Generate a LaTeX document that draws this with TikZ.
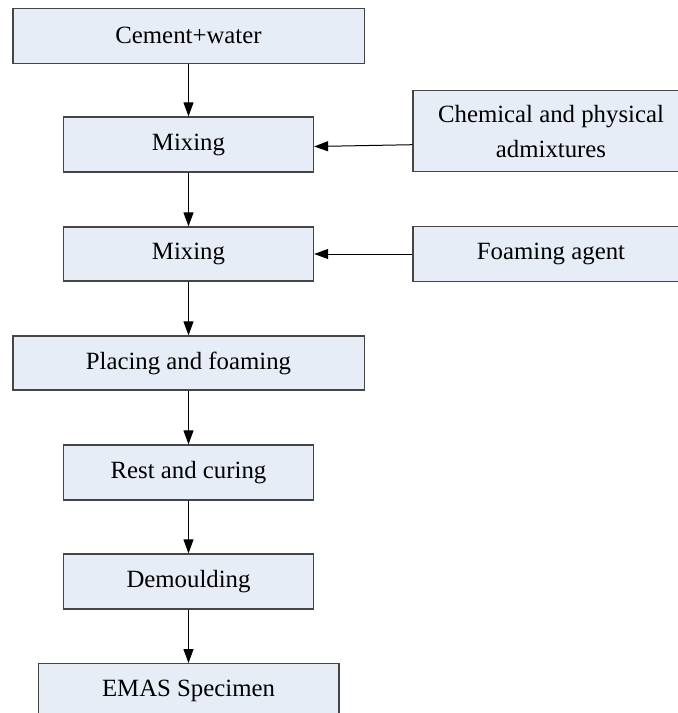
\documentclass[tikz,border=0pt]{standalone}
\usepackage{fontspec}
\setmainfont{Liberation Serif}
\usetikzlibrary{arrows.meta}
\definecolor{boxfill}{HTML}{E7EDF7}
\definecolor{boxline}{HTML}{454545}
\begin{document}
\begin{tikzpicture}[x=1pt,y=-1pt,
  procbox/.style={draw=boxline,fill=boxfill,line width=1.3pt,inner sep=0pt,align=center,
    font=\fontsize{24.8}{35}\selectfont},
  conn/.style={draw=black,line width=1pt,-{Triangle[length=14pt,width=10pt]}}]
\clip (0,0) rectangle (678,713);
\fill[white] (0,0) rectangle (678,713);
\node[procbox,minimum width=351.3pt,minimum height=55pt] (cement) at (188.5,35.8) {Cement+water};
\node[procbox,minimum width=250pt,minimum height=55pt] (mix1) at (188.5,144.5) {Mixing};
\node[procbox,minimum width=250pt,minimum height=54pt] (mix2) at (188.5,254) {Mixing};
\node[procbox,minimum width=351.3pt,minimum height=54pt] (place) at (188.5,363) {Placing and foaming};
\node[procbox,minimum width=250pt,minimum height=55pt] (rest) at (188.5,472.5) {Rest and curing};
\node[procbox,minimum width=250pt,minimum height=55pt] (demould) at (188.5,581.5) {Demoulding};
\node[procbox,minimum width=300.7pt,minimum height=54pt] (emas) at (188.5,690.7) {EMAS Specimen};
\node[procbox,minimum width=276pt,minimum height=81pt] (chem) at (551,131.2) {Chemical and physical\\admixtures};
\node[procbox,minimum width=276pt,minimum height=55pt] (foam) at (551,254) {Foaming agent};
\coordinate (chemout) at ([yshift=-13.5pt]chem.west);
\coordinate (mix1in) at ([yshift=-2pt]mix1.east);
\draw[conn] (cement.south) -- (mix1.north);
\draw[conn] (mix1.south) -- (mix2.north);
\draw[conn] (mix2.south) -- (place.north);
\draw[conn] (place.south) -- (rest.north);
\draw[conn] (rest.south) -- (demould.north);
\draw[conn] (demould.south) -- (emas.north);
\draw[conn] (chemout) -- (mix1in);
\draw[conn] (foam.west) -- (mix2.east);
\end{tikzpicture}
\end{document}
